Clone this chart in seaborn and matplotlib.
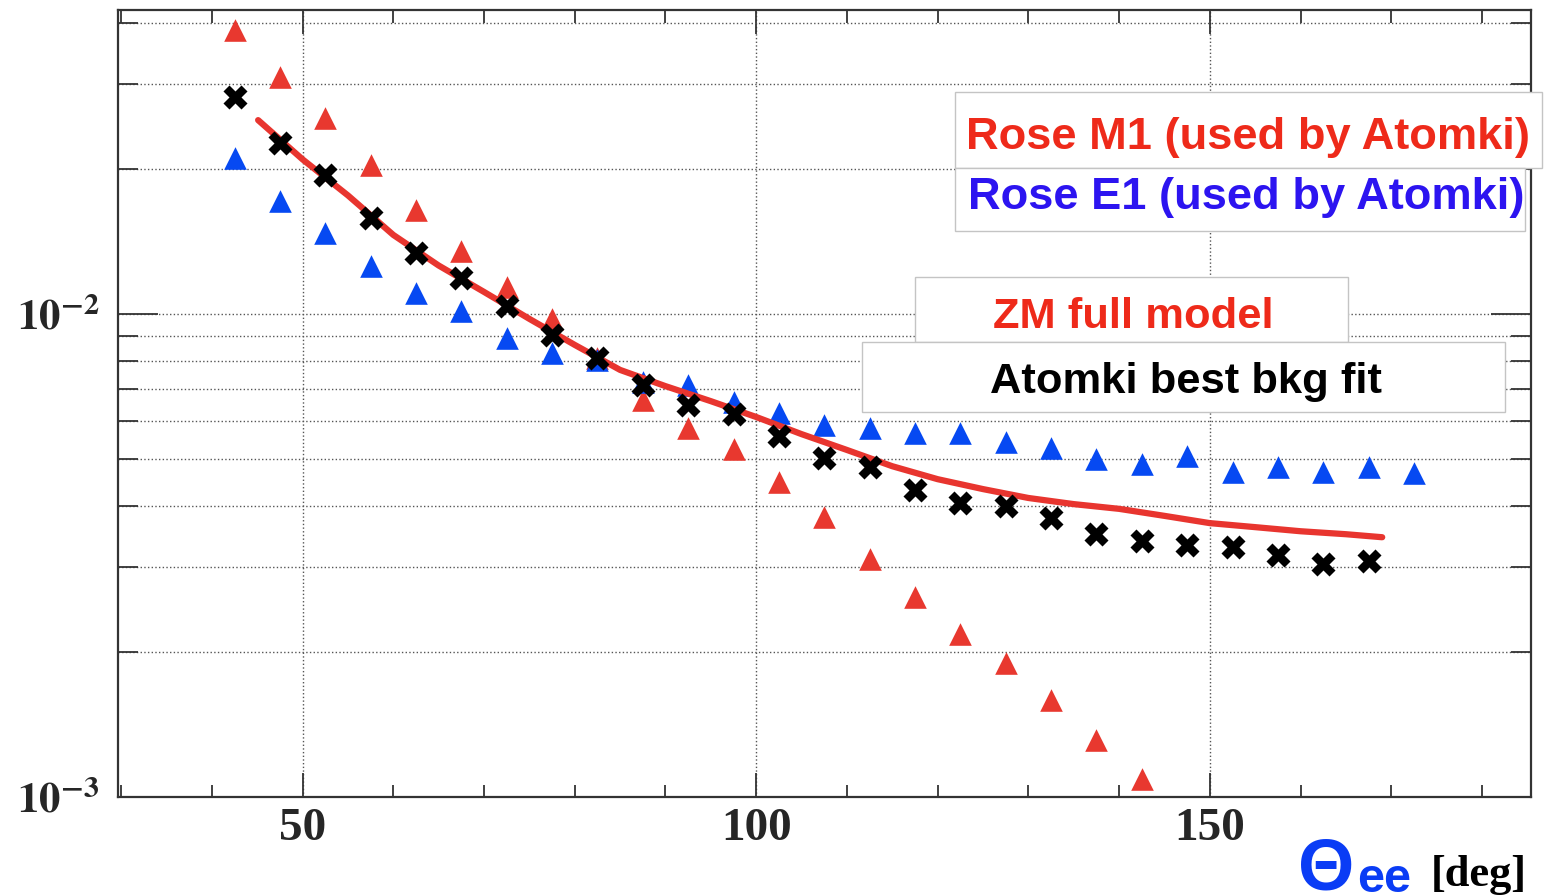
import matplotlib
matplotlib.use("Agg")
import matplotlib.pyplot as plt
import numpy as np
import pandas as pd
import seaborn as sns
from matplotlib.patches import Rectangle
from matplotlib.ticker import FixedLocator, NullFormatter

# ---------------- data ----------------
theta_m1 = [42.5, 47.5, 52.5, 57.5, 62.5, 67.5, 72.5, 77.5, 82.5, 87.5, 92.5,
            97.5, 102.5, 107.5, 112.5, 117.5, 122.5, 127.5, 132.5, 137.5, 142.5]
rose_m1 = [0.0387, 0.0310, 0.0255, 0.0203, 0.0164, 0.0135, 0.0114, 0.00977,
           0.00811, 0.00664, 0.00581, 0.00526, 0.00449, 0.00380, 0.00311,
           0.00260, 0.00217, 0.00189, 0.00159, 0.00131, 0.00109]

theta_e1 = [42.5, 47.5, 52.5, 57.5, 62.5, 67.5, 72.5, 77.5, 82.5, 87.5, 92.5,
            97.5, 102.5, 107.5, 112.5, 117.5, 122.5, 127.5, 132.5, 137.5,
            142.5, 147.5, 152.5, 157.5, 162.5, 167.5, 172.5]
rose_e1 = [0.0210, 0.0171, 0.0147, 0.0126, 0.01105, 0.01014, 0.00892, 0.00830,
           0.00803, 0.00723, 0.00713, 0.00657, 0.00624, 0.00589, 0.00581,
           0.00567, 0.00567, 0.00543, 0.00528, 0.00501, 0.00489, 0.00508,
           0.00471, 0.00482, 0.00471, 0.00482, 0.00469]

theta_bkg = [42.5, 47.5, 52.5, 57.5, 62.5, 67.5, 72.5, 77.5, 82.5, 87.5, 92.5,
             97.5, 102.5, 107.5, 112.5, 117.5, 122.5, 127.5, 132.5, 137.5,
             142.5, 147.5, 152.5, 157.5, 162.5, 167.5]
atomki_bkg = [0.0281, 0.0226, 0.0194, 0.0158, 0.01338, 0.01187, 0.01039,
              0.00905, 0.00811, 0.00713, 0.00648, 0.00621, 0.00559, 0.00503,
              0.00482, 0.00432, 0.00406, 0.00400, 0.00378, 0.00350, 0.00339,
              0.00332, 0.00329, 0.00317, 0.00304, 0.00308]

zm_x = [45.1, 50, 55, 60, 65, 70, 75, 80, 85, 90, 95, 100, 105, 110, 115,
        120, 125, 130, 135, 140, 145, 150, 155, 160, 165, 169]
zm_y = [0.0252, 0.0209, 0.0176, 0.01458, 0.0126, 0.01111, 0.00977, 0.00863,
        0.00766, 0.00709, 0.00660, 0.00612, 0.00564, 0.00523, 0.00484,
        0.00455, 0.00434, 0.00416, 0.00404, 0.00395, 0.00382, 0.00369,
        0.00362, 0.00355, 0.00350, 0.00345]

x_major = [50, 100, 150]
x_major_labels = ["50", "100", "150"]
x_minor = [30, 40, 60, 70, 80, 90, 110, 120, 130, 140, 160, 170, 180]
y_major = [1e-3, 1e-2]
y_major_labels = [r"$\mathbf{10^{-3}}$", r"$\mathbf{10^{-2}}$"]
y_minor = [2e-3, 3e-3, 4e-3, 5e-3, 6e-3, 7e-3, 8e-3, 9e-3, 2e-2, 3e-2, 4e-2]

legend_labels = ["Rose M1 (used by Atomki)", "Rose E1 (used by Atomki)",
                 "ZM full model", "Atomki best bkg fit"]

# ---------------- style ----------------
sns.set_style("ticks")
plt.rcParams["font.family"] = ["Liberation Sans", "DejaVu Sans"]
plt.rcParams["mathtext.fontset"] = "stix"

C_RED_TRI = "#e8382f"
C_BLUE_TRI = "#0649f2"
C_LINE = "#e8352f"
C_TXT_RED = "#ee2a1a"
C_TXT_BLUE = "#2c14f0"
C_THETA = "#0a3cf5"

W, H = 1558, 896
fig = plt.figure(figsize=(W / 100, H / 100), dpi=100)
fig.patch.set_facecolor("white")
ax = fig.add_axes([117.5 / W, 1 - 797 / H, (1531 - 117.5) / W, (797 - 10) / H])

df_m1 = pd.DataFrame({"theta": theta_m1, "val": rose_m1})
df_e1 = pd.DataFrame({"theta": theta_e1, "val": rose_e1})
df_bkg = pd.DataFrame({"theta": theta_bkg, "val": atomki_bkg})
df_zm = pd.DataFrame({"theta": zm_x, "val": zm_y})

sns.scatterplot(data=df_m1, x="theta", y="val", marker="^", s=265,
                color=C_RED_TRI, linewidth=0, ax=ax, zorder=3)
sns.scatterplot(data=df_e1, x="theta", y="val", marker="^", s=265,
                color=C_BLUE_TRI, linewidth=0, ax=ax, zorder=3)
sns.lineplot(data=df_zm, x="theta", y="val", color=C_LINE, lw=4.5,
             errorbar=None, sort=False, ax=ax, zorder=4)
sns.scatterplot(data=df_bkg, x="theta", y="val", marker="X", s=300,
                color="black", linewidth=0, ax=ax, zorder=5)

ax.set_yscale("log")
ax.set_xlim(29.6, 185.4)
ax.set_ylim(1e-3, 0.0426)
ax.set_xlabel("")
ax.set_ylabel("")

ax.xaxis.set_major_locator(FixedLocator(x_major))
ax.xaxis.set_minor_locator(FixedLocator(x_minor))
ax.set_xticklabels(x_major_labels, fontfamily="Liberation Serif",
                   fontweight="bold", fontsize=34)
ax.xaxis.set_minor_formatter(NullFormatter())

ax.yaxis.set_major_locator(FixedLocator(y_major))
ax.yaxis.set_minor_locator(FixedLocator(y_minor))
ax.set_yticklabels(y_major_labels, fontsize=31)
ax.yaxis.set_minor_formatter(NullFormatter())

ax.tick_params(which="both", direction="in", top=True, right=True,
               color="#333333", width=1.3)
ax.tick_params(axis="x", which="major", length=17, pad=8)
ax.tick_params(axis="x", which="minor", length=9)
ax.tick_params(axis="y", which="major", length=29, pad=13)
ax.tick_params(axis="y", which="minor", length=14.5)

ax.grid(axis="x", which="major", ls=":", lw=1.0, color="#555555")
ax.grid(axis="y", which="both", ls=":", lw=1.0, color="#555555")
ax.set_axisbelow(True)
for sp in ax.spines.values():
    sp.set_color("#333333")
    sp.set_linewidth(1.6)


# ---------------- legend boxes ----------------
def box(x0, y0, x1, y1):
    fig.add_artist(Rectangle((x0 / W, 1 - y1 / H), (x1 - x0) / W, (y1 - y0) / H,
                             transform=fig.transFigure, facecolor="white",
                             edgecolor="#c4c4c4", lw=1.0, zorder=10))


def label(x, yb, txt, color, size):
    fig.text(x / W, 1 - yb / H, txt, color=color, fontsize=size,
             fontweight="bold", ha="left", va="baseline", zorder=11,
             family=["Liberation Sans", "DejaVu Sans"])


box(955, 92, 1542, 168)
box(955, 168, 1525, 231)
box(915, 277, 1348, 342)
box(862, 342, 1505, 412)
label(966, 149, legend_labels[0], C_TXT_RED, 32.6)
label(968, 209, legend_labels[1], C_TXT_BLUE, 32.6)
label(993, 328, legend_labels[2], C_TXT_RED, 31.3)
label(990, 393, legend_labels[3], "black", 31.3)

# ---------------- x axis title ----------------
fig.text(1298 / W, 1 - 889 / H, "Θ", color=C_THETA, fontsize=52,
         fontweight="bold", ha="left", va="baseline",
         family=["Liberation Sans", "DejaVu Sans"])
fig.text(1357 / W, 1 - 892 / H, "ee", color=C_THETA, fontsize=35,
         fontweight="bold", ha="left", va="baseline",
         family=["Liberation Sans", "DejaVu Sans"])
fig.text(1431 / W, 1 - 886 / H, "[deg]", color="black", fontsize=32,
         fontweight="bold", ha="left", va="baseline",
         family=["Liberation Serif", "DejaVu Serif"])

fig.savefig("out.png", dpi=100)
